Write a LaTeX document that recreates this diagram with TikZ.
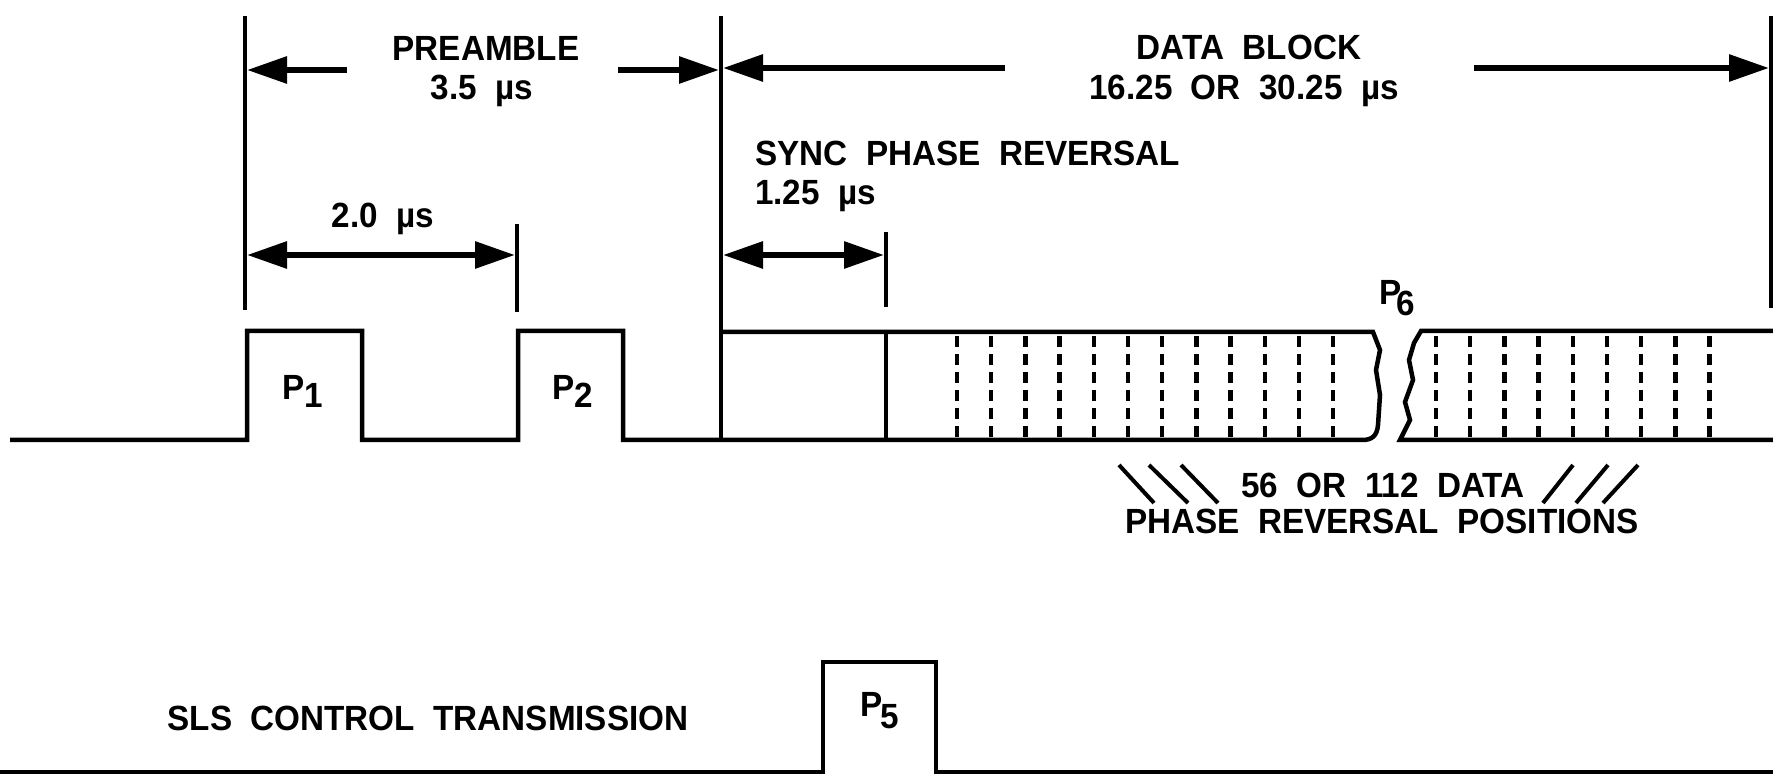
\documentclass[tikz,border=0pt]{standalone}
\usepackage{fontspec}
\setmainfont{Liberation Sans}[FakeStretch=0.95, WordSpace=2]
\usetikzlibrary{arrows.meta}
\begin{document}
\begin{tikzpicture}[x=1pt,y=-1pt,
  wave/.style={line width=4.5pt, line join=miter},
  dim/.style={line width=4pt},
  arr/.style={line width=6pt, -{Triangle[length=40pt,width=26pt]}},
  darr/.style={line width=6pt, {Triangle[length=40pt,width=26pt]}-{Triangle[length=40pt,width=26pt]}},
  lbl/.style={font=\bfseries\fontsize{35}{38}\selectfont, inner sep=0pt, anchor=base},
  tickline/.style={line width=4.5pt, dash pattern=on 11pt off 7pt},
  hatch/.style={line width=4pt}
]
\useasboundingbox (0,0) rectangle (1773,775);

% reference lines
\coordinate (preT) at (245,16);  \coordinate (preB) at (245,310);
\coordinate (datT) at (721,16);  \coordinate (datB) at (721,440);
\coordinate (p2T) at (517,224);  \coordinate (p2B) at (517,312);
\coordinate (synT) at (886,232); \coordinate (synB) at (886,307);
\coordinate (endT) at (1771,16); \coordinate (endB) at (1771,308);
\draw[dim] (preT) -- (preB);
\draw[dim] (datT) -- (datB);
\draw[dim] (p2T) -- (p2B);
\draw[dim] (synT) -- (synB);
\draw[dim] (endT) -- (endB);

% dimension arrows
\coordinate (a1s) at (347,70);  \coordinate (a1e) at (247,70);
\coordinate (a2s) at (618,70);  \coordinate (a2e) at (719,70);
\coordinate (a3s) at (1005,68); \coordinate (a3e) at (723,68);
\coordinate (a4s) at (1474,68); \coordinate (a4e) at (1769,68);
\coordinate (a5s) at (247,255); \coordinate (a5e) at (515,255);
\coordinate (a6s) at (723,255); \coordinate (a6e) at (884,255);
\draw[arr] (a1s) -- (a1e);
\draw[arr] (a2s) -- (a2e);
\draw[arr] (a3s) -- (a3e);
\draw[arr] (a4s) -- (a4e);
\draw[darr] (a5s) -- (a5e);
\draw[darr] (a6s) -- (a6e);

% labels
\node[lbl] (tpre) at (486,61) {PREAMBLE};
\node[lbl] (tpreV) at (482,100) {3.5 µs};
\node[lbl] (tdat) at (1249,60) {DATA BLOCK};
\node[lbl] (tdatV) at (1244,100) {16.25 OR 30.25 µs};
\node[lbl, anchor=base west] (tsyn) at (755,166) {SYNC PHASE REVERSAL};
\node[lbl, anchor=base west] (tsynV) at (755,205) {1.25 µs};
\node[lbl] (t20) at (383,228) {2.0 µs};
\node[lbl] (tp1) at (303,400) {P\raisebox{-8pt}{1}};
\node[lbl] (tp2) at (573,400) {P\raisebox{-8pt}{2}};
\node[lbl] (tp6) at (1397,305) {P\kern-5pt\raisebox{-11pt}{6}};
\node[lbl] (tp5) at (880,716) {P\kern-2pt\raisebox{-12pt}{5}};
\node[lbl] (tn56) at (1383,497) {56 OR 112 DATA};
\node[lbl] (tpos) at (1382,533) {PHASE REVERSAL POSITIONS};
\node[lbl] (tsls) at (428,730) {SLS CONTROL TRANSMISSION};

% top waveform
\draw[wave] (10,440) -| (247,331) -| (362,440) -| (518,331) -| (623,440)
  -- (1362,440) .. controls (1372,440) and (1377,436) .. (1378,425)
  -- (1380,395) -- (1376,370) -- (1380,350) -- (1373,332) -- (721,332);
\draw[wave] (1773,331) -- (1421,331) -- (1414,343) -- (1409,360) -- (1413,380)
  -- (1405,402) -- (1410,420) -- (1400,440) -- (1773,440);
\draw[dim] (886,332) -- (886,440);

% data phase reversal positions
\foreach \i in {0,...,11} \draw[tickline] ({957+34.2*\i},336) -- ++(0,102);
\foreach \i in {0,...,8} \draw[tickline] ({1436+34.2*\i},336) -- ++(0,102);

% hatch marks
\draw[hatch] (1119,465) -- (1154,503);
\draw[hatch] (1149,465) -- (1188,503);
\draw[hatch] (1181,465) -- (1218,503);
\draw[hatch] (1543,503) -- (1573,465);
\draw[hatch] (1576,503) -- (1608,465);
\draw[hatch] (1603,503) -- (1638,465);

% bottom waveform
\draw[wave] (0,772) -- (823,772) -- (823,662) -- (936,662) -- (936,772) -- (1773,772);
\end{tikzpicture}
\end{document}
